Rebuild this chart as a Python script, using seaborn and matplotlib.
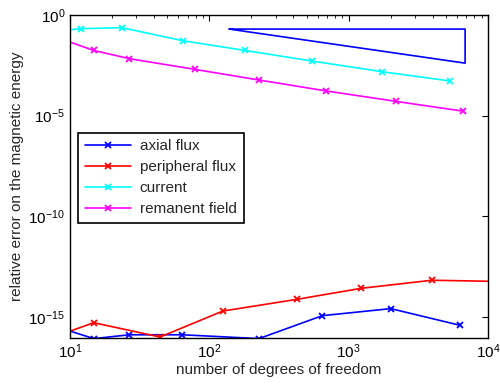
import numpy as np
import pandas as pd
import matplotlib
matplotlib.use("Agg")
import matplotlib.pyplot as plt
import seaborn as sns

# values (log10 of y), first point sits just left of x=10
axial_x = [8, 14.8, 26.7, 64.1, 227, 647, 2005, 6310]
axial_logy = [-15.49, -16.08, -15.89, -15.89, -16.08, -14.94, -14.59, -15.42]

periph_x = [8, 14.8, 44.3, 125, 424, 1233, 3950, 12000]
periph_logy = [-15.95, -15.29, -16.0, -14.71, -14.13, -13.58, -13.18, -13.24]

current_x = [8, 11.9, 23.6, 64.7, 180, 548, 1746, 5350]
current_logy = [-0.80, -0.68, -0.63, -1.28, -1.76, -2.29, -2.82, -3.28]

remanent_x = [8, 14.8, 26.7, 78.5, 227, 685, 2178, 6650]
remanent_logy = [-1.11, -1.76, -2.17, -2.70, -3.23, -3.77, -4.29, -4.78]

# slope-1 reference triangle
tri_x = [139, 6850, 6850, 139]
tri_y = [0.2, 0.2, 0.00406, 0.2]

names = ["axial flux", "peripheral flux", "current", "remanent field"]
colors = ["#0000ff", "#ff0000", "#00ffff", "#ff00ff"]

frames = []
for name, xs, ly in zip(names,
                        [axial_x, periph_x, current_x, remanent_x],
                        [axial_logy, periph_logy, current_logy, remanent_logy]):
    frames.append(pd.DataFrame({"dof": xs, "err": 10.0 ** np.array(ly), "series": name}))
df = pd.concat(frames, ignore_index=True)
tri = pd.DataFrame({"dof": tri_x, "err": tri_y})

sns.set_style("white")
plt.rcParams["font.family"] = ["Liberation Sans", "DejaVu Sans"]
plt.rcParams["font.size"] = 11
plt.rcParams["xtick.direction"] = "in"
plt.rcParams["ytick.direction"] = "in"

fig = plt.figure(figsize=(5, 3.87), dpi=100)
ax = fig.add_axes([0.14, 0.1266, 0.836, 0.8346])

sns.lineplot(data=tri, x="dof", y="err", sort=False, estimator=None,
             color="#0000ff", linewidth=1.2, ax=ax, legend=False)
sns.lineplot(data=df, x="dof", y="err", hue="series", hue_order=names,
             palette=colors, marker="x", markersize=5, markeredgewidth=1.3,
             linewidth=1.2, estimator=None, ax=ax)

# seaborn gives markers a white edge; 'x' markers need the line colour
for ln in ax.lines:
    ln.set_markeredgecolor(ln.get_color())

ax.set_xscale("log")
ax.set_yscale("log")
ax.set_xlim(10, 1e4)
ax.set_ylim(10 ** -16.05, 1)
ax.set_yticks([1e-15, 1e-10, 1e-5, 1e0])
ax.yaxis.set_minor_locator(matplotlib.ticker.NullLocator())
ax.tick_params(which="both", top=True, right=True, labelsize=11,
               colors="black")
ax.tick_params(which="major", length=4, width=0.8)
ax.tick_params(which="minor", length=2, width=0.6)
for s in ax.spines.values():
    s.set_color("black")
    s.set_linewidth(1.0)

ax.set_xlabel("number of degrees of freedom", fontsize=11, labelpad=1)
ax.set_ylabel("relative error on the magnetic energy", fontsize=11, labelpad=3)

handles, labels = ax.get_legend_handles_labels()
leg = ax.legend(handles, labels, loc="upper left", bbox_to_anchor=(0.019, 0.636),
                borderaxespad=0, fancybox=False, edgecolor="black",
                framealpha=1, handlelength=3.0, fontsize=11,
                labelspacing=0.45, borderpad=0.45, handletextpad=0.6)
leg.get_frame().set_linewidth(1.2)
for h in leg.legend_handles:
    h.set_markeredgecolor(h.get_color())

fig.savefig("out.png", dpi=100)
